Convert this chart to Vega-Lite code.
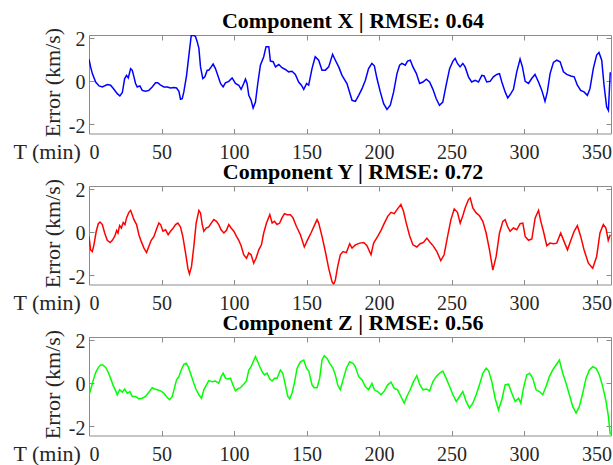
{
  "$schema": "https://vega.github.io/schema/vega-lite/v6.json",
  "padding": {"left": 12, "top": 9, "right": 3, "bottom": 0},
  "spacing": 52,
  "bounds": "flush",
  "config": {
    "font": "Liberation Serif",
    "view": {"stroke": "#8c8c8c", "strokeWidth": 1},
    "axis": {"grid": false, "domain": false, "labelFont": "Liberation Serif", "labelFontSize": 20, "labelColor": "#262626", "titleFont": "Liberation Serif", "titleFontSize": 22, "titleFontWeight": "normal", "titleColor": "#262626", "tickColor": "#8c8c8c", "tickWidth": 1, "minExtent": 0},
    "title": {"font": "Liberation Serif", "fontSize": 22, "fontWeight": "bold", "color": "#000000", "offset": -6, "baseline": "alphabetic", "dx": 3, "frame": "group"}
  },
  "datasets": {
    "X": [
      {"t":0,"v":1.01},{"t":1.1,"v":0.65},{"t":2.3,"v":0.34},{"t":4.6,"v":-0.05},{"t":6.9,"v":-0.23},{"t":9.2,"v":-0.28},{"t":12.6,"v":-0.17},{"t":14.9,"v":-0.2},{"t":17.2,"v":-0.39},{"t":19.5,"v":-0.59},{"t":21.3,"v":-0.7},{"t":23,"v":-0.54},{"t":24.6,"v":0.11},{"t":25.9,"v":0.26},{"t":27.1,"v":0.14},{"t":28.7,"v":0.57},{"t":29.8,"v":0.5},{"t":31,"v":0.19},{"t":32.1,"v":-0.12},{"t":33.3,"v":-0.28},{"t":35.1,"v":-0.23},{"t":36.7,"v":-0.44},{"t":39,"v":-0.48},{"t":41.3,"v":-0.44},{"t":43.6,"v":-0.28},{"t":45.9,"v":-0.09},{"t":47.5,"v":-0.09},{"t":49.4,"v":-0.2},{"t":51.7,"v":-0.28},{"t":54,"v":-0.28},{"t":56.2,"v":-0.33},{"t":58.5,"v":-0.31},{"t":60.4,"v":-0.33},{"t":62,"v":-0.48},{"t":63.1,"v":-0.85},{"t":64.3,"v":-0.82},{"t":65.4,"v":-0.51},{"t":67.3,"v":0.26},{"t":68.9,"v":1.2},{"t":70.5,"v":2.1},{"t":72.3,"v":2.12},{"t":73.5,"v":2.05},{"t":74.6,"v":1.82},{"t":75.8,"v":1.51},{"t":76.9,"v":0.65},{"t":78.5,"v":0.11},{"t":79.9,"v":0.19},{"t":81.5,"v":0.5},{"t":82.6,"v":0.5},{"t":84.3,"v":0.65},{"t":85.6,"v":0.78},{"t":87.2,"v":0.57},{"t":88.8,"v":0.26},{"t":90.7,"v":-0.12},{"t":92.5,"v":-0.28},{"t":94.1,"v":-0.09},{"t":96.4,"v":-0.02},{"t":98.7,"v":0.14},{"t":101,"v":-0.12},{"t":103.3,"v":-0.2},{"t":104.9,"v":-0.39},{"t":106.7,"v":-0.12},{"t":107.9,"v":0.08},{"t":109,"v":-0.12},{"t":110.2,"v":-0.67},{"t":111.8,"v":-0.9},{"t":113.2,"v":-1.26},{"t":114.8,"v":-0.98},{"t":116.4,"v":-0.12},{"t":118.2,"v":0.73},{"t":120.5,"v":1.12},{"t":122.1,"v":1.59},{"t":124,"v":1.59},{"t":125.1,"v":0.92},{"t":127,"v":0.89},{"t":128.6,"v":0.65},{"t":130.9,"v":0.76},{"t":133.1,"v":0.61},{"t":135.4,"v":0.53},{"t":137.7,"v":0.42},{"t":140,"v":0.45},{"t":142.3,"v":0.3},{"t":144.6,"v":-0.05},{"t":146.5,"v":-0.2},{"t":148.1,"v":-0.39},{"t":150.1,"v":-0.12},{"t":151.5,"v":-0.2},{"t":153.8,"v":0.57},{"t":156,"v":1.12},{"t":158.4,"v":0.96},{"t":160.7,"v":0.5},{"t":163,"v":0.5},{"t":165.3,"v":0.65},{"t":168,"v":1.23},{"t":169.9,"v":0.96},{"t":172.2,"v":0.65},{"t":174.5,"v":0.26},{"t":177.9,"v":-0.12},{"t":181.4,"v":-0.9},{"t":183.7,"v":-0.95},{"t":186,"v":-0.67},{"t":188.3,"v":-0.36},{"t":190.6,"v":0.03},{"t":192.8,"v":0.57},{"t":195.1,"v":0.81},{"t":196.8,"v":0.7},{"t":198.6,"v":0.11},{"t":200.9,"v":-0.51},{"t":203.2,"v":-1.06},{"t":205.5,"v":-1.32},{"t":207.8,"v":-1.13},{"t":210.1,"v":-0.51},{"t":212.4,"v":0.34},{"t":214.2,"v":0.73},{"t":215.8,"v":0.81},{"t":218.1,"v":0.73},{"t":219.7,"v":0.92},{"t":221.6,"v":0.96},{"t":223.4,"v":0.65},{"t":225.8,"v":0.34},{"t":228,"v":-0.12},{"t":230.3,"v":-0.05},{"t":232.6,"v":0.08},{"t":234.9,"v":-0.05},{"t":237.2,"v":-0.39},{"t":239.4,"v":-0.82},{"t":241.7,"v":-1.13},{"t":244,"v":-0.98},{"t":246.3,"v":-0.2},{"t":248.7,"v":0.57},{"t":251,"v":0.92},{"t":252.5,"v":1.04},{"t":254.1,"v":0.81},{"t":255.9,"v":0.65},{"t":257.8,"v":0.81},{"t":259.4,"v":0.65},{"t":261.7,"v":0.19},{"t":263.9,"v":-0.05},{"t":266.3,"v":0.03},{"t":268.6,"v":-0.05},{"t":270.9,"v":0.26},{"t":272.5,"v":0.23},{"t":274.3,"v":-0.05},{"t":276.6,"v":-0.02},{"t":278.9,"v":0.19},{"t":281.2,"v":0.3},{"t":283.1,"v":0.34},{"t":284.7,"v":-0.05},{"t":287,"v":-0.51},{"t":288.8,"v":-0.79},{"t":290.9,"v":-0.59},{"t":292.7,"v":-0.39},{"t":295,"v":0.42},{"t":297.3,"v":1.01},{"t":298.9,"v":0.65},{"t":300.8,"v":-0.02},{"t":303.1,"v":-0.12},{"t":305.3,"v":0.11},{"t":307.6,"v":0.3},{"t":310,"v":-0.05},{"t":312.3,"v":-0.44},{"t":314.5,"v":-0.95},{"t":316.1,"v":-0.51},{"t":318,"v":0.34},{"t":320.3,"v":0.86},{"t":322.6,"v":0.96},{"t":324.9,"v":0.89},{"t":327.2,"v":0.42},{"t":329.5,"v":0.3},{"t":332.3,"v":0.23},{"t":334.6,"v":0.19},{"t":336.8,"v":-0.2},{"t":339.1,"v":-0.44},{"t":341.4,"v":-0.51},{"t":343.7,"v":-0.67},{"t":345.5,"v":-0.36},{"t":347.8,"v":0.57},{"t":350.1,"v":1.2},{"t":351.7,"v":1.32},{"t":353.6,"v":0.96},{"t":355.2,"v":-0.2},{"t":357,"v":-1.21},{"t":358.2,"v":-1.37},{"t":359.5,"v":0.4}
    ],
    "Y": [
      {"t":0,"v":-0.21},{"t":1.1,"v":-0.83},{"t":2.3,"v":-0.91},{"t":3.4,"v":-0.6},{"t":5,"v":0.03},{"t":6.4,"v":0.38},{"t":7.6,"v":0.46},{"t":9.2,"v":0.34},{"t":10.8,"v":-0.05},{"t":12.6,"v":-0.39},{"t":14.5,"v":-0.49},{"t":16.1,"v":-0.39},{"t":17.7,"v":-0.21},{"t":19.1,"v":0.07},{"t":20,"v":-0.05},{"t":21.1,"v":0.29},{"t":22.3,"v":0.18},{"t":23.6,"v":0.44},{"t":24.8,"v":0.34},{"t":25.9,"v":0.65},{"t":27.5,"v":0.91},{"t":28.7,"v":1.0},{"t":29.8,"v":0.8},{"t":31,"v":0.57},{"t":32.8,"v":0.34},{"t":34.4,"v":-0.13},{"t":36,"v":-0.44},{"t":37.9,"v":-0.75},{"t":39.7,"v":-0.96},{"t":41.3,"v":-0.67},{"t":42.9,"v":-0.39},{"t":44.8,"v":-0.21},{"t":46.4,"v":0.1},{"t":48.2,"v":0.41},{"t":49.4,"v":0.34},{"t":51,"v":0.03},{"t":52.8,"v":0.1},{"t":54.6,"v":-0.13},{"t":56.2,"v":0.03},{"t":58.1,"v":0.18},{"t":59.7,"v":0.34},{"t":61.3,"v":0.41},{"t":63.1,"v":0.23},{"t":64.7,"v":-0.21},{"t":66.6,"v":-0.98},{"t":68.2,"v":-1.69},{"t":69.3,"v":-1.95},{"t":70.7,"v":-1.6},{"t":72.3,"v":-0.67},{"t":73.9,"v":0.41},{"t":75.8,"v":1.0},{"t":76.9,"v":0.88},{"t":78.1,"v":0.34},{"t":79.2,"v":0.03},{"t":80.8,"v":0.18},{"t":82.6,"v":0.23},{"t":84.3,"v":0.41},{"t":86.1,"v":0.57},{"t":87.9,"v":0.49},{"t":89.5,"v":0.34},{"t":91.1,"v":0.1},{"t":93,"v":-0.05},{"t":94.8,"v":0.07},{"t":96.4,"v":0.34},{"t":98,"v":0.18},{"t":99.9,"v":0.03},{"t":101.7,"v":-0.21},{"t":103.3,"v":-0.39},{"t":104.9,"v":-0.64},{"t":106.7,"v":-1.06},{"t":108.6,"v":-1.22},{"t":110.2,"v":-0.98},{"t":111.8,"v":-1.06},{"t":113.6,"v":-1.45},{"t":115.2,"v":-1.22},{"t":117.1,"v":-0.83},{"t":118.9,"v":-0.6},{"t":120.5,"v":-0.05},{"t":122.4,"v":0.41},{"t":124.7,"v":0.8},{"t":126.3,"v":0.41},{"t":127.9,"v":0.49},{"t":129.7,"v":0.34},{"t":131.5,"v":0.41},{"t":133.1,"v":0.65},{"t":134.8,"v":0.85},{"t":136.6,"v":0.8},{"t":138.9,"v":0.8},{"t":140.7,"v":0.65},{"t":143,"v":0.26},{"t":145.8,"v":-0.13},{"t":148.5,"v":-0.7},{"t":150.8,"v":-0.36},{"t":153.1,"v":-0.05},{"t":155.4,"v":0.29},{"t":157.3,"v":0.57},{"t":158.4,"v":0.41},{"t":160.7,"v":-0.21},{"t":163,"v":-0.91},{"t":165.3,"v":-1.69},{"t":167.6,"v":-2.31},{"t":168.7,"v":-2.44},{"t":169.9,"v":-2.23},{"t":171.5,"v":-1.61},{"t":173.3,"v":-1.06},{"t":175.2,"v":-0.91},{"t":177.5,"v":-0.96},{"t":179.8,"v":-0.55},{"t":181.4,"v":-0.75},{"t":183.7,"v":-0.6},{"t":186.7,"v":-0.52},{"t":189.5,"v":-0.49},{"t":191.7,"v":-0.64},{"t":194.5,"v":-1.06},{"t":196.3,"v":-0.52},{"t":199.1,"v":-0.21},{"t":201.4,"v":0.07},{"t":203.7,"v":0.41},{"t":206,"v":0.72},{"t":208.3,"v":0.91},{"t":210.5,"v":0.85},{"t":212.8,"v":1.07},{"t":215.1,"v":1.27},{"t":216.9,"v":0.96},{"t":218.8,"v":0.41},{"t":221.1,"v":-0.18},{"t":223.4,"v":-0.6},{"t":226.1,"v":-0.7},{"t":228.4,"v":-0.55},{"t":230.7,"v":-0.49},{"t":233,"v":-0.29},{"t":235.3,"v":-0.49},{"t":237.6,"v":-0.67},{"t":239.9,"v":-0.91},{"t":242.6,"v":-1.33},{"t":244.9,"v":-1.06},{"t":247.3,"v":-0.21},{"t":249.6,"v":0.57},{"t":251.9,"v":1.07},{"t":254.1,"v":0.91},{"t":256,"v":0.41},{"t":257.8,"v":0.75},{"t":259.4,"v":1.11},{"t":261.7,"v":1.5},{"t":262.9,"v":1.58},{"t":264.7,"v":1.11},{"t":267,"v":0.88},{"t":269.3,"v":0.75},{"t":271.6,"v":0.49},{"t":273.9,"v":-0.05},{"t":276.2,"v":-0.83},{"t":278.5,"v":-1.77},{"t":280.8,"v":-1.14},{"t":283.1,"v":-0.05},{"t":285.4,"v":0.49},{"t":287,"v":0.57},{"t":288.6,"v":0.26},{"t":290.4,"v":0.03},{"t":292.7,"v":0.18},{"t":295,"v":0.1},{"t":297.3,"v":0.38},{"t":299.2,"v":0.41},{"t":300.8,"v":-0.21},{"t":303.1,"v":-0.39},{"t":305.4,"v":-0.33},{"t":307.7,"v":0.65},{"t":310,"v":1.0},{"t":311.6,"v":0.49},{"t":313.4,"v":0.03},{"t":315.7,"v":-0.64},{"t":318,"v":-0.52},{"t":320.3,"v":-0.55},{"t":322.6,"v":-0.52},{"t":325.3,"v":-0.05},{"t":327.6,"v":-0.44},{"t":330,"v":-0.83},{"t":332.3,"v":-0.39},{"t":334.6,"v":0.03},{"t":336.8,"v":0.29},{"t":339.1,"v":-0.21},{"t":341.4,"v":-0.83},{"t":344.4,"v":-1.45},{"t":347.4,"v":-1.69},{"t":350.1,"v":-1.14},{"t":352.4,"v":-0.05},{"t":354.7,"v":0.34},{"t":356.5,"v":0.18},{"t":358.1,"v":-0.39},{"t":359.5,"v":-0.13}
    ],
    "Z": [
      {"t":0,"v":-0.58},{"t":1.1,"v":-0.32},{"t":3,"v":0.14},{"t":4.6,"v":0.48},{"t":6.4,"v":0.71},{"t":8,"v":0.83},{"t":9.6,"v":0.83},{"t":11.5,"v":0.72},{"t":13.1,"v":0.52},{"t":14.9,"v":0.22},{"t":16.5,"v":-0.09},{"t":18.4,"v":-0.37},{"t":19.5,"v":-0.55},{"t":21.1,"v":-0.32},{"t":23,"v":-0.43},{"t":24.6,"v":-0.29},{"t":26.4,"v":-0.48},{"t":28.2,"v":-0.4},{"t":29.8,"v":-0.63},{"t":32.1,"v":-0.63},{"t":34.4,"v":-0.74},{"t":36.7,"v":-0.71},{"t":39,"v":-0.63},{"t":41.3,"v":-0.43},{"t":43.6,"v":-0.22},{"t":45.2,"v":-0.28},{"t":47.1,"v":-0.32},{"t":49.4,"v":-0.37},{"t":51.7,"v":-0.48},{"t":53.9,"v":-0.68},{"t":55.6,"v":-0.78},{"t":57.4,"v":-0.63},{"t":59,"v":-0.22},{"t":60.4,"v":0.14},{"t":62,"v":0.29},{"t":63.6,"v":0.6},{"t":65.4,"v":0.86},{"t":67,"v":0.91},{"t":68.4,"v":0.75},{"t":70,"v":0.45},{"t":71.9,"v":0.06},{"t":73.5,"v":-0.25},{"t":75.8,"v":-0.55},{"t":77.6,"v":-0.71},{"t":79.2,"v":-0.32},{"t":81,"v":-0.09},{"t":82.6,"v":0.11},{"t":84.9,"v":0.06},{"t":87.2,"v":0.09},{"t":89.5,"v":-0.02},{"t":91.1,"v":0.29},{"t":92.5,"v":0.45},{"t":94.1,"v":0.22},{"t":95.7,"v":0.18},{"t":97.6,"v":0.22},{"t":99.2,"v":-0.09},{"t":101,"v":-0.37},{"t":102.6,"v":-0.28},{"t":104.5,"v":-0.22},{"t":106.7,"v":-0.06},{"t":108.6,"v":0.09},{"t":110.2,"v":0.6},{"t":111.8,"v":0.75},{"t":113.2,"v":0.98},{"t":114.8,"v":1.22},{"t":116.4,"v":0.98},{"t":117.8,"v":0.75},{"t":119.4,"v":0.52},{"t":121,"v":0.37},{"t":122.8,"v":0.45},{"t":124.7,"v":0.18},{"t":126.3,"v":0.09},{"t":127.9,"v":0.22},{"t":129.7,"v":0.22},{"t":132,"v":0.6},{"t":133.6,"v":0.45},{"t":135.4,"v":-0.09},{"t":137.1,"v":-0.63},{"t":138.4,"v":-0.74},{"t":140,"v":-0.48},{"t":141.6,"v":-0.02},{"t":143.5,"v":0.68},{"t":145.8,"v":0.98},{"t":148.1,"v":1.06},{"t":150,"v":0.68},{"t":151.6,"v":0.55},{"t":153.8,"v":-0.09},{"t":155.4,"v":-0.22},{"t":157.3,"v":-0.22},{"t":159.1,"v":0.22},{"t":160.7,"v":1.06},{"t":162.3,"v":1.26},{"t":164.2,"v":1.14},{"t":166,"v":0.91},{"t":168.3,"v":0.68},{"t":169.9,"v":0.37},{"t":171.5,"v":-0.09},{"t":173.3,"v":-0.32},{"t":175.2,"v":0.14},{"t":177.5,"v":0.68},{"t":179.8,"v":0.98},{"t":182.1,"v":0.91},{"t":183.7,"v":0.75},{"t":186,"v":0.29},{"t":188.3,"v":0.14},{"t":190.6,"v":-0.17},{"t":192.8,"v":-0.32},{"t":195.1,"v":-0.02},{"t":196.8,"v":-0.32},{"t":199.1,"v":-0.4},{"t":201.4,"v":-0.55},{"t":203.7,"v":-0.37},{"t":206,"v":-0.09},{"t":208.3,"v":0.03},{"t":210.5,"v":-0.25},{"t":212.8,"v":-0.32},{"t":215.1,"v":-0.63},{"t":217.4,"v":-0.94},{"t":219.2,"v":-0.63},{"t":221.5,"v":-0.32},{"t":223.8,"v":0.06},{"t":226.1,"v":0.34},{"t":228,"v":-0.06},{"t":230.3,"v":-0.32},{"t":232.6,"v":-0.28},{"t":234.9,"v":-0.37},{"t":237.2,"v":0.06},{"t":239.4,"v":0.29},{"t":241.7,"v":0.45},{"t":244,"v":0.55},{"t":246.3,"v":0.22},{"t":248.7,"v":-0.17},{"t":251,"v":-0.55},{"t":253.3,"v":-0.86},{"t":255.6,"v":-0.63},{"t":257.8,"v":-0.4},{"t":260.1,"v":-0.86},{"t":262.4,"v":-1.17},{"t":264.7,"v":-0.94},{"t":267,"v":-0.55},{"t":269.3,"v":-0.09},{"t":271.6,"v":0.45},{"t":273.9,"v":0.68},{"t":275.7,"v":0.55},{"t":277.8,"v":0.06},{"t":280.1,"v":-0.71},{"t":282.4,"v":-1.25},{"t":284.7,"v":-0.78},{"t":287,"v":-0.09},{"t":289.3,"v":-0.06},{"t":291.6,"v":-0.48},{"t":293.9,"v":-0.86},{"t":296.2,"v":-0.71},{"t":297.8,"v":-0.94},{"t":299.6,"v":-0.25},{"t":301.9,"v":0.37},{"t":303.8,"v":0.45},{"t":306,"v":0.22},{"t":308.3,"v":-0.32},{"t":310.6,"v":-0.4},{"t":312.9,"v":-0.55},{"t":315.2,"v":-0.17},{"t":317.5,"v":0.29},{"t":319.8,"v":0.6},{"t":322.1,"v":0.83},{"t":324.4,"v":1.06},{"t":326.7,"v":0.45},{"t":329,"v":-0.02},{"t":331.3,"v":-0.55},{"t":333.6,"v":-1.09},{"t":335.9,"v":-1.4},{"t":338.2,"v":-1.09},{"t":340.5,"v":-0.48},{"t":342.8,"v":0.22},{"t":345.1,"v":0.6},{"t":347.4,"v":0.75},{"t":349.7,"v":0.68},{"t":352,"v":0.37},{"t":354.3,"v":-0.17},{"t":356.6,"v":-0.86},{"t":358.2,"v":-1.55},{"t":359.5,"v":-2.4}
    ]
  },
  "vconcat": [
    {
      "title": {"text": "Component X | RMSE: 0.64"},
      "width": 522, "height": 98.5,
      "data": {"name": "X"},
      "layer": [
        {"mark": {"type": "line", "color": "#0000ff", "strokeWidth": 1.5, "clip": true},
         "encoding": {
           "x": {"field": "t", "type": "quantitative", "scale": {"domain": [0, 360], "nice": false, "zero": false},
                 "axis": {"orient": "bottom", "values": [0,50,100,150,200,250,300,350], "ticks": false, "labelPadding": 9, "labelExpr": "toString(datum.value)", "title": "T (min)", "titleX": -76, "titleY": 25, "titleAlign": "left", "titleBaseline": "alphabetic", "titleAngle": 0}},
           "y": {"field": "v", "type": "quantitative", "scale": {"domain": [-2.44, 2.13], "nice": false, "zero": false},
                 "axis": {"orient": "left", "values": [-2,0,2], "ticks": false, "labelPadding": 4, "labelOffset": 2, "labelExpr": "toString(datum.value)", "title": "Error (km/s)", "titleX": -30, "titleY": 47, "titleAngle": -90, "titleAlign": "center", "titleBaseline": "alphabetic"}}
         }},
        {"mark": {"type": "line", "opacity": 0},
         "encoding": {
           "x": {"field": "t", "type": "quantitative", "axis": {"orient": "bottom", "values": [0,50,100,150,200,250,300,350], "labels": false, "title": null, "offset": -5, "tickSize": 5}},
           "y": {"field": "v", "type": "quantitative", "axis": {"orient": "left", "values": [-2,0,2], "labels": false, "title": null, "offset": -5, "tickSize": 5}}
         }},
        {"mark": {"type": "line", "opacity": 0},
         "encoding": {
           "x": {"field": "t", "type": "quantitative", "axis": {"orient": "top", "values": [0,50,100,150,200,250,300,350], "labels": false, "title": null, "offset": -5, "tickSize": 5}},
           "y": {"field": "v", "type": "quantitative", "axis": {"orient": "right", "values": [-2,0,2], "labels": false, "title": null, "offset": -5, "tickSize": 5}}
         }}
      ],
      "resolve": {"axis": {"x": "independent", "y": "independent"}}
    },
    {
      "title": {"text": "Component Y | RMSE: 0.72"},
      "width": 522, "height": 98.5,
      "data": {"name": "Y"},
      "layer": [
        {"mark": {"type": "line", "color": "#ff0000", "strokeWidth": 1.5, "clip": true},
         "encoding": {
           "x": {"field": "t", "type": "quantitative", "scale": {"domain": [0, 360], "nice": false, "zero": false},
                 "axis": {"orient": "bottom", "values": [0,50,100,150,200,250,300,350], "ticks": false, "labelPadding": 9, "labelExpr": "toString(datum.value)", "title": "T (min)", "titleX": -76, "titleY": 25, "titleAlign": "left", "titleBaseline": "alphabetic", "titleAngle": 0}},
           "y": {"field": "v", "type": "quantitative", "scale": {"domain": [-2.44, 2.13], "nice": false, "zero": false},
                 "axis": {"orient": "left", "values": [-2,0,2], "ticks": false, "labelPadding": 4, "labelOffset": 2, "labelExpr": "toString(datum.value)", "title": "Error (km/s)", "titleX": -30, "titleY": 47, "titleAngle": -90, "titleAlign": "center", "titleBaseline": "alphabetic"}}
         }},
        {"mark": {"type": "line", "opacity": 0},
         "encoding": {
           "x": {"field": "t", "type": "quantitative", "axis": {"orient": "bottom", "values": [0,50,100,150,200,250,300,350], "labels": false, "title": null, "offset": -5, "tickSize": 5}},
           "y": {"field": "v", "type": "quantitative", "axis": {"orient": "left", "values": [-2,0,2], "labels": false, "title": null, "offset": -5, "tickSize": 5}}
         }},
        {"mark": {"type": "line", "opacity": 0},
         "encoding": {
           "x": {"field": "t", "type": "quantitative", "axis": {"orient": "top", "values": [0,50,100,150,200,250,300,350], "labels": false, "title": null, "offset": -5, "tickSize": 5}},
           "y": {"field": "v", "type": "quantitative", "axis": {"orient": "right", "values": [-2,0,2], "labels": false, "title": null, "offset": -5, "tickSize": 5}}
         }}
      ],
      "resolve": {"axis": {"x": "independent", "y": "independent"}}
    },
    {
      "title": {"text": "Component Z | RMSE: 0.56"},
      "width": 522, "height": 98.5,
      "data": {"name": "Z"},
      "layer": [
        {"mark": {"type": "line", "color": "#00ff00", "strokeWidth": 1.5, "clip": true},
         "encoding": {
           "x": {"field": "t", "type": "quantitative", "scale": {"domain": [0, 360], "nice": false, "zero": false},
                 "axis": {"orient": "bottom", "values": [0,50,100,150,200,250,300,350], "ticks": false, "labelPadding": 9, "labelExpr": "toString(datum.value)", "title": "T (min)", "titleX": -76, "titleY": 25, "titleAlign": "left", "titleBaseline": "alphabetic", "titleAngle": 0}},
           "y": {"field": "v", "type": "quantitative", "scale": {"domain": [-2.44, 2.13], "nice": false, "zero": false},
                 "axis": {"orient": "left", "values": [-2,0,2], "ticks": false, "labelPadding": 4, "labelOffset": 2, "labelExpr": "toString(datum.value)", "title": "Error (km/s)", "titleX": -30, "titleY": 47, "titleAngle": -90, "titleAlign": "center", "titleBaseline": "alphabetic"}}
         }},
        {"mark": {"type": "line", "opacity": 0},
         "encoding": {
           "x": {"field": "t", "type": "quantitative", "axis": {"orient": "bottom", "values": [0,50,100,150,200,250,300,350], "labels": false, "title": null, "offset": -5, "tickSize": 5}},
           "y": {"field": "v", "type": "quantitative", "axis": {"orient": "left", "values": [-2,0,2], "labels": false, "title": null, "offset": -5, "tickSize": 5}}
         }},
        {"mark": {"type": "line", "opacity": 0},
         "encoding": {
           "x": {"field": "t", "type": "quantitative", "axis": {"orient": "top", "values": [0,50,100,150,200,250,300,350], "labels": false, "title": null, "offset": -5, "tickSize": 5}},
           "y": {"field": "v", "type": "quantitative", "axis": {"orient": "right", "values": [-2,0,2], "labels": false, "title": null, "offset": -5, "tickSize": 5}}
         }}
      ],
      "resolve": {"axis": {"x": "independent", "y": "independent"}}
    }
  ]
}
